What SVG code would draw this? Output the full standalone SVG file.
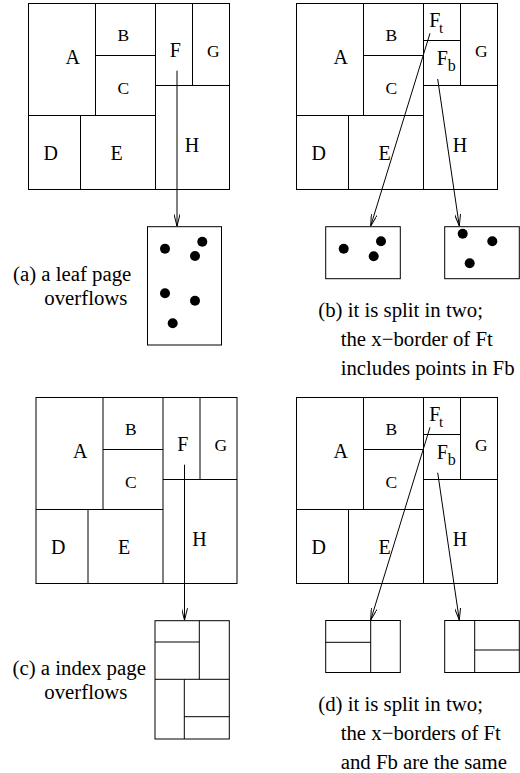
<svg xmlns="http://www.w3.org/2000/svg" width="520" height="773" viewBox="0 0 520 773">
<style>
.r{fill:none;stroke:#000;stroke-width:1}
.l{stroke:#000;stroke-width:1;fill:none}
.t{font-family:"Liberation Serif","Times New Roman",serif;fill:#000;text-anchor:middle}
.big{font-size:20px}
.sm{font-size:17.5px}
.cap{font-family:"Liberation Serif","Times New Roman",serif;font-size:20.8px;fill:#000}
.dot{fill:#000}
.arr{stroke:#000;stroke-width:1;fill:none;marker-end:url(#ah)}
</style>
<defs>
<marker id="ah" viewBox="0 0 12 6" refX="12" refY="3" markerWidth="12" markerHeight="6" markerUnits="userSpaceOnUse" orient="auto">
<path d="M0,0 L12,3 L0,6" fill="none" stroke="#000" stroke-width="1"/>
</marker>
</defs>

<!-- Panel (a) -->
<g id="panel-a">
<rect class="r" x="28.5" y="3.5" width="201" height="186"/>
<path class="l" d="M95.5,3.5V115.5 M155.5,3.5V189.5 M95.5,55.5H155.5 M28.5,115.5H155.5 M80.5,115.5V189.5 M155.5,85.5H229.5 M192.5,3.5V85.5"/>
<g id="a-A"><text class="t big" x="72.7" y="63.7">A</text></g>
<g id="a-B"><text class="t sm" x="123.3" y="41.3">B</text></g>
<g id="a-C"><text class="t sm" x="123.3" y="94">C</text></g>
<g id="a-F"><text class="t big" x="175.3" y="56.7">F</text></g>
<g id="a-G"><text class="t sm" x="213.3" y="57.3">G</text></g>
<g id="a-D"><text class="t big" x="50.7" y="160">D</text></g>
<g id="a-E"><text class="t big" x="116.7" y="160">E</text></g>
<g id="a-H"><text class="t big" x="192" y="152.3">H</text></g>
</g>
<g id="page-a">
<rect class="r" x="147.5" y="226.7" width="74" height="118.3"/>
<circle class="dot" cx="165" cy="248.7" r="5"/>
<circle class="dot" cx="202.3" cy="241.7" r="5"/>
<circle class="dot" cx="195" cy="256" r="5"/>
<circle class="dot" cx="165" cy="293.3" r="5"/>
<circle class="dot" cx="195" cy="300.7" r="5"/>
<circle class="dot" cx="172.7" cy="323.3" r="5"/>
</g>
<g id="caption-a">
<text class="cap" x="13" y="281">(a) a leaf page</text>
<text class="cap" x="44.3" y="305">overflows</text>
</g>

<!-- Panel (b) -->
<g id="panel-b">
<rect class="r" x="296.5" y="3.5" width="201" height="186"/>
<path class="l" d="M363.5,3.5V115.5 M423.5,3.5V189.5 M363.5,55.5H423.5 M296.5,115.5H423.5 M348.5,115.5V189.5 M423.5,85.5H497.5 M460.5,3.5V85.5 M423.5,40.5H460.5"/>
<g id="b-A"><text class="t big" x="340.7" y="63.7">A</text></g>
<g id="b-B"><text class="t sm" x="391.3" y="41.3">B</text></g>
<g id="b-C"><text class="t sm" x="391.3" y="94">C</text></g>
<g id="b-Ft"><text class="cap" x="429.3" y="26.7" style="font-size:20px">F<tspan dx="-1.5" dy="5.8" style="font-size:15px">t</tspan></text></g>
<g id="b-Fb"><text class="cap" x="436.7" y="65" style="font-size:20px">F<tspan dy="6" style="font-size:16px">b</tspan></text></g>
<g id="b-G"><text class="t sm" x="481.3" y="57.3">G</text></g>
<g id="b-D"><text class="t big" x="318.7" y="160">D</text></g>
<g id="b-E"><text class="t big" x="384.7" y="160">E</text></g>
<g id="b-H"><text class="t big" x="460" y="152.3">H</text></g>
</g>
<g id="page-b1">
<rect class="r" x="325.7" y="226.7" width="74.6" height="52"/>
<circle class="dot" cx="343.7" cy="248.7" r="5"/>
<circle class="dot" cx="381" cy="241.3" r="5"/>
<circle class="dot" cx="373.7" cy="256.3" r="5"/>
</g>
<g id="page-b2">
<rect class="r" x="444.7" y="226.7" width="74.6" height="52"/>
<circle class="dot" cx="462.7" cy="233.7" r="5"/>
<circle class="dot" cx="492.3" cy="241.3" r="5"/>
<circle class="dot" cx="469.7" cy="263.3" r="5"/>
</g>
<g id="caption-b">
<text class="cap" x="318.3" y="316.5">(b) it is split in two;</text>
<text class="cap" x="340.7" y="346">the x−border of Ft</text>
<text class="cap" x="340.7" y="375">includes points in Fb</text>
</g>

<!-- Panel (c) -->
<g id="panel-c" transform="translate(7.5,394)">
<rect class="r" x="28.5" y="3.5" width="201" height="186"/>
<path class="l" d="M95.5,3.5V115.5 M155.5,3.5V189.5 M95.5,55.5H155.5 M28.5,115.5H155.5 M80.5,115.5V189.5 M155.5,85.5H229.5 M192.5,3.5V85.5"/>
<g id="c-A"><text class="t big" x="72.7" y="63.7">A</text></g>
<g id="c-B"><text class="t sm" x="123.3" y="41.3">B</text></g>
<g id="c-C"><text class="t sm" x="123.3" y="94">C</text></g>
<g id="c-F"><text class="t big" x="175.3" y="56.7">F</text></g>
<g id="c-G"><text class="t sm" x="213.3" y="57.3">G</text></g>
<g id="c-D"><text class="t big" x="50.7" y="160">D</text></g>
<g id="c-E"><text class="t big" x="116.7" y="160">E</text></g>
<g id="c-H"><text class="t big" x="192" y="152.3">H</text></g>
</g>
<g id="page-c">
<rect class="r" x="155" y="620.7" width="74.3" height="118.3"/>
<path class="l" d="M199.3,620.7V679.3 M155,642H199.3 M155,679.3H229.3 M184.3,679.3V739 M184.3,716.7H229.3"/>
</g>
<g id="caption-c">
<text class="cap" x="12.5" y="675">(c) a index page</text>
<text class="cap" x="44.3" y="698.5">overflows</text>
</g>

<!-- Panel (d) -->
<g id="panel-d" transform="translate(0,394)">
<rect class="r" x="296.5" y="3.5" width="201" height="186"/>
<path class="l" d="M363.5,3.5V115.5 M423.5,3.5V189.5 M363.5,55.5H423.5 M296.5,115.5H423.5 M348.5,115.5V189.5 M423.5,85.5H497.5 M460.5,3.5V85.5 M423.5,40.5H460.5"/>
<g id="d-A"><text class="t big" x="340.7" y="63.7">A</text></g>
<g id="d-B"><text class="t sm" x="391.3" y="41.3">B</text></g>
<g id="d-C"><text class="t sm" x="391.3" y="94">C</text></g>
<g id="d-Ft"><text class="cap" x="429.3" y="26.7" style="font-size:20px">F<tspan dx="-1.5" dy="5.8" style="font-size:15px">t</tspan></text></g>
<g id="d-Fb"><text class="cap" x="436.7" y="65" style="font-size:20px">F<tspan dy="6" style="font-size:16px">b</tspan></text></g>
<g id="d-G"><text class="t sm" x="481.3" y="57.3">G</text></g>
<g id="d-D"><text class="t big" x="318.7" y="160">D</text></g>
<g id="d-E"><text class="t big" x="384.7" y="160">E</text></g>
<g id="d-H"><text class="t big" x="460" y="152.3">H</text></g>
</g>
<g id="page-d1">
<rect class="r" x="325.7" y="620.5" width="74.6" height="52"/>
<path class="l" d="M370.7,620.5V672.5 M325.7,642.3H370.7"/>
</g>
<g id="page-d2">
<rect class="r" x="444.7" y="620.5" width="74.6" height="52"/>
<path class="l" d="M474.7,620.5V672.5 M474.7,650H519.3"/>
</g>
<g id="caption-d">
<text class="cap" x="318.3" y="711">(d) it is split in two;</text>
<text class="cap" x="340.7" y="740">the x−borders of Ft</text>
<text class="cap" x="340.7" y="768.5">and Fb are the same</text>
</g>

<!-- Connectors -->
<g id="connectors">
<line class="arr" x1="177" y1="70.7" x2="177" y2="226.2"/>
<line class="arr" x1="430" y1="33.3" x2="370.7" y2="226"/>
<line class="arr" x1="437.7" y1="79" x2="459.3" y2="226"/>
<line class="arr" x1="184.5" y1="464.7" x2="184.5" y2="620.2"/>
<line class="arr" x1="430" y1="427.3" x2="370.7" y2="620"/>
<line class="arr" x1="437.7" y1="472.7" x2="459.3" y2="620"/>
</g>
</svg>
